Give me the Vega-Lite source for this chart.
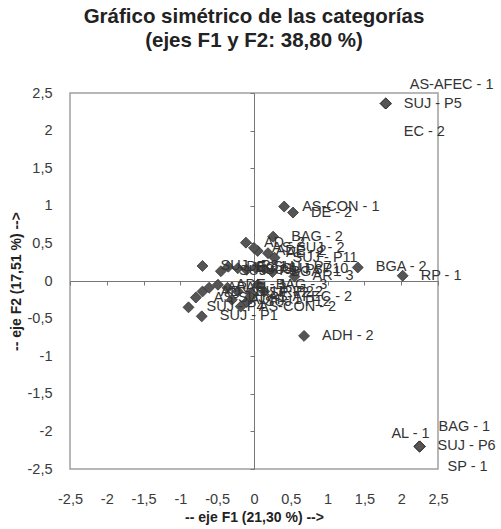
{
  "$schema": "https://vega.github.io/schema/vega-lite/v6.json",
  "autosize": "none",
  "width": 368,
  "height": 376,
  "padding": {"left": 70, "top": 93, "right": 63, "bottom": 60},
  "background": "white",
  "config": {
    "font": "Liberation Sans",
    "view": {"stroke": "#a0a0a0", "strokeWidth": 1.5},
    "axis": {"labelFont": "Liberation Sans", "titleFont": "Liberation Sans", "grid": false}
  },
  "title": {
    "text": ["Gráfico simétrico de las categorías", "(ejes F1 y F2: 38,80 %)"],
    "font": "Liberation Sans",
    "fontSize": 20.5,
    "fontWeight": "bold",
    "color": "#222",
    "anchor": "middle",
    "offset": 25,
    "lineHeight": 24
  },
  "data": {
    "values": [
      {"x": 1.79, "y": 2.36, "label": "AS-AFEC - 1"},
      {"x": 1.79, "y": 2.36, "label": "SUJ - P5"},
      {"x": 1.79, "y": 2.36, "label": "EC - 2"},
      {"x": 2.25, "y": -2.2, "label": "AL - 1"},
      {"x": 2.25, "y": -2.2, "label": "BAG - 1"},
      {"x": 2.25, "y": -2.2, "label": "SUJ - P6"},
      {"x": 2.25, "y": -2.2, "label": "SP - 1"},
      {"x": 0.41, "y": 0.99, "label": "AS-CON - 1"},
      {"x": 0.53, "y": 0.91, "label": "DE - 2"},
      {"x": 0.26, "y": 0.59, "label": "BAG - 2"},
      {"x": 0.05, "y": 0.4, "label": "ADE - 2"},
      {"x": 0.0, "y": 0.44, "label": "AS-SUJ - 2"},
      {"x": -0.11, "y": 0.51, "label": "AD - 2"},
      {"x": 0.19, "y": 0.37, "label": "AL - 2"},
      {"x": 0.28, "y": 0.31, "label": "SUJ - P11"},
      {"x": 1.41, "y": 0.18, "label": "BGA - 2"},
      {"x": 2.02, "y": 0.07, "label": "RP - 1"},
      {"x": 0.55, "y": 0.06, "label": "AR - 3"},
      {"x": -0.7, "y": 0.2, "label": "SUJ - P8"},
      {"x": -0.45, "y": 0.13, "label": "SUJ - P9"},
      {"x": -0.35, "y": 0.19, "label": "DE - 1"},
      {"x": -0.22, "y": 0.17, "label": "EC - 1"},
      {"x": -0.1, "y": 0.15, "label": "SUJ - P3"},
      {"x": 0.02, "y": 0.18, "label": "SUJ - P7"},
      {"x": 0.14, "y": 0.16, "label": "SUJ - P10"},
      {"x": 0.25, "y": 0.12, "label": "BGA - 1"},
      {"x": -0.36, "y": -0.09, "label": "AR - 2"},
      {"x": -0.22, "y": -0.14, "label": "SUJ - P2"},
      {"x": -0.04, "y": -0.16, "label": "SP - 2"},
      {"x": 0.14, "y": -0.14, "label": "RP - 2"},
      {"x": -0.3, "y": -0.25, "label": "ADH - 1"},
      {"x": -0.1, "y": -0.28, "label": "SUJ - P12"},
      {"x": -0.18, "y": -0.34, "label": "AS-CON - 2"},
      {"x": -0.05, "y": -0.21, "label": "AS-AFEC - 2"},
      {"x": -0.89, "y": -0.35, "label": "SUJ - P4"},
      {"x": -0.71, "y": -0.47, "label": "SUJ - P1"},
      {"x": -0.79, "y": -0.22, "label": "AS-SUJ - 1"},
      {"x": -0.7, "y": -0.14, "label": "AD - 1"},
      {"x": -0.61, "y": -0.09, "label": "AR - 1"},
      {"x": -0.49, "y": -0.05, "label": "ADE - 1"},
      {"x": 0.05, "y": -0.05, "label": "BAG - 3"},
      {"x": 0.68, "y": -0.73, "label": "ADH - 2"}
    ]
  },
  "resolve": {"axis": {"x": "independent", "y": "independent"}},
  "layer": [
    {
      "mark": {"type": "point", "shape": "diamond", "filled": true, "size": 120, "color": "#555555", "stroke": "#333333", "strokeWidth": 0.8, "opacity": 1},
      "encoding": {
        "x": {"field": "x", "type": "quantitative",
          "scale": {"domain": [-2.5, 2.5], "nice": false, "zero": false},
          "axis": {"orient": "bottom", "values": [-2.5, -2, -1.5, -1, -0.5, 0, 0.5, 1, 1.5, 2, 2.5],
            "labelExpr": "replace(toString(datum.value), '.', ',')", "labelFlush": false, "labelOverlap": false,
            "domain": false, "ticks": false, "labelPadding": 23, "labelFontSize": 14.5, "labelColor": "#3a3a3a",
            "title": "-- eje F1 (21,30 %) -->", "titleFontSize": 14, "titleFontWeight": "bold", "titleColor": "#222", "titlePadding": 5}},
        "y": {"field": "y", "type": "quantitative",
          "scale": {"domain": [-2.5, 2.5], "nice": false, "zero": false},
          "axis": {"orient": "left", "values": [-2.5, -2, -1.5, -1, -0.5, 0, 0.5, 1, 1.5, 2, 2.5],
            "labelExpr": "replace(toString(datum.value), '.', ',')", "labelFlush": false, "labelOverlap": false,
            "domain": false, "ticks": false, "labelPadding": 18, "labelFontSize": 14.5, "labelColor": "#3a3a3a",
            "title": "-- eje F2 (17,51 %) -->", "titleFontSize": 14, "titleFontWeight": "bold", "titleColor": "#222", "titlePadding": 4}}
      }
    },
    {
      "transform": [{"filter": {"not": {"field": "label", "oneOf": ["AS-AFEC - 1", "EC - 2", "AL - 1", "BAG - 1", "SP - 1"]}}}],
      "mark": {"type": "text", "align": "left", "baseline": "middle", "dx": 18, "fontSize": 14.5, "color": "#333"},
      "encoding": {
        "x": {"field": "x", "type": "quantitative",
          "axis": {"orient": "bottom", "offset": -188, "values": [-2.5, -2, -1.5, -1, -0.5, 0, 0.5, 1, 1.5, 2, 2.5],
            "labels": false, "ticks": true, "tickSize": 4, "tickColor": "#777", "domain": true, "domainColor": "#777", "title": null}},
        "y": {"field": "y", "type": "quantitative",
          "axis": {"orient": "left", "offset": -184, "values": [-2.5, -2, -1.5, -1, -0.5, 0, 0.5, 1, 1.5, 2, 2.5],
            "labels": false, "ticks": true, "tickSize": 4, "tickColor": "#777", "domain": true, "domainColor": "#777", "title": null}},
        "text": {"field": "label"}
      }
    },
    {
      "transform": [{"filter": {"field": "label", "equal": "AS-AFEC - 1"}}],
      "mark": {"type": "text", "align": "left", "baseline": "middle", "dx": 24, "dy": -19, "fontSize": 14.5, "color": "#333"},
      "encoding": {"x": {"field": "x", "type": "quantitative", "axis": null}, "y": {"field": "y", "type": "quantitative", "axis": null}, "text": {"field": "label"}}
    },
    {
      "transform": [{"filter": {"field": "label", "equal": "EC - 2"}}],
      "mark": {"type": "text", "align": "left", "baseline": "middle", "dx": 18, "dy": 28, "fontSize": 14.5, "color": "#333"},
      "encoding": {"x": {"field": "x", "type": "quantitative", "axis": null}, "y": {"field": "y", "type": "quantitative", "axis": null}, "text": {"field": "label"}}
    },
    {
      "transform": [{"filter": {"field": "label", "equal": "AL - 1"}}],
      "mark": {"type": "text", "align": "right", "baseline": "middle", "dx": 10, "dy": -12, "fontSize": 14.5, "color": "#333"},
      "encoding": {"x": {"field": "x", "type": "quantitative", "axis": null}, "y": {"field": "y", "type": "quantitative", "axis": null}, "text": {"field": "label"}}
    },
    {
      "transform": [{"filter": {"field": "label", "equal": "BAG - 1"}}],
      "mark": {"type": "text", "align": "left", "baseline": "middle", "dx": 19, "dy": -19, "fontSize": 14.5, "color": "#333"},
      "encoding": {"x": {"field": "x", "type": "quantitative", "axis": null}, "y": {"field": "y", "type": "quantitative", "axis": null}, "text": {"field": "label"}}
    },
    {
      "transform": [{"filter": {"field": "label", "equal": "SP - 1"}}],
      "mark": {"type": "text", "align": "left", "baseline": "middle", "dx": 28, "dy": 21, "fontSize": 14.5, "color": "#333"},
      "encoding": {"x": {"field": "x", "type": "quantitative", "axis": null}, "y": {"field": "y", "type": "quantitative", "axis": null}, "text": {"field": "label"}}
    }
  ]
}
